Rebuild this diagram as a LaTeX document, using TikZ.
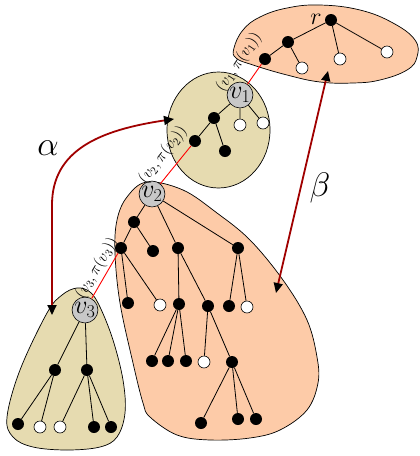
\RequirePackage{fix-cm}
\documentclass[tikz,border=0pt]{standalone}
\usetikzlibrary{arrows.meta}
\definecolor{peach}{RGB}{253,203,168}
\definecolor{blobtan}{RGB}{230,219,176}
\definecolor{nodegray}{RGB}{200,200,200}
\definecolor{arrowred}{RGB}{160,0,0}
\begin{document}
\begin{tikzpicture}[x=1pt,y=-1pt,
 bn/.style={circle,fill=black,inner sep=0pt,minimum size=12pt},
 wn/.style={circle,draw=black,fill=white,inner sep=0pt,minimum size=12pt,line width=0.6pt},
 gn/.style={circle,draw=black,fill=nodegray,inner sep=0pt,minimum size=23pt,line width=0.6pt,font=\fontsize{26}{26}\selectfont},
 tedge/.style={line width=0.8pt},
 redge/.style={red,line width=0.9pt},
 elabel/.style={text=black,font=\fontsize{16}{16}\selectfont, inner sep=0pt},
 blob/.style={draw=black,line width=0.7pt},
 bigarrow/.style={arrowred,line width=1.8pt,{Triangle[length=10pt,width=9pt,color=black]}-{Triangle[length=10pt,width=9pt,color=black]}},
 greek/.style={font=\fontsize{34}{34}\selectfont}
]
\useasboundingbox (0,0) rectangle (420,456);

% blobs
\draw[blob,fill=peach] plot[smooth cycle,tension=0.7] coordinates {(234,48) (243,30) (260,17) (287,8) (320,5) (360,10) (393,23) (415,40) (417,57) (407,70) (380,80) (353,83) (320,82) (287,75) (253,65) (236,58)};
\draw[blob,fill=blobtan] (218.5,130) ellipse [x radius=51.5, y radius=58];
\draw[blob,fill=peach] plot[smooth cycle,tension=0.6] coordinates {(147,182) (183,190) (217,213) (250,240) (283,280) (307,320) (317,357) (318,383) (307,410) (280,430) (250,438) (210,440) (177,435) (150,417) (143,403) (133,363) (120,303) (115,253) (117,220) (127,197)};
\draw[blob,fill=blobtan] plot[smooth cycle,tension=0.6] coordinates {(77,288) (90,292) (100,307) (113,340) (123,380) (125,413) (117,437) (100,447) (67,450) (33,447) (13,437) (7,417) (20,370) (47,313) (62,295)};

% top tree
\node[bn] (r) at (331,20) {};
\node[font=\fontsize{24}{24}\selectfont] (rl) at (316,19) {$r$};
\node[bn] (t1) at (288,42) {};
\node[wn] (t2) at (340,59) {};
\node[wn] (t3) at (387,52) {};
\node[bn] (t4) at (265,59) {};
\node[wn] (t5) at (302,68) {};
\draw[tedge] (r) -- (t1) (r) -- (t2) (r) -- (t3) (t1) -- (t4) (t1) -- (t5);

% v1 tree
\node[gn] (v1) at (240,95) {$v_1$};
\node[bn] (u1) at (214,118) {};
\node[wn] (u2) at (240,125) {};
\node[wn] (u3) at (263,123) {};
\node[bn] (u4) at (195,141) {};
\node[bn] (u5) at (225,151) {};
\draw[tedge] (v1) -- (u1) (v1) -- (u2) (v1) -- (u3) (u1) -- (u4) (u1) -- (u5);

% v2 tree
\node[gn] (v2) at (152,194) {$v_2$};
\node[bn] (a) at (134,222) {};
\node[bn] (b) at (121,248) {};
\node[bn] (c) at (153,251) {};
\node[bn] (d) at (178,248) {};
\node[bn] (e) at (238,248) {};
\node[bn] (b1) at (128,303) {};
\node[wn] (b2) at (160,305) {};
\node[bn] (d1) at (179,304) {};
\node[bn] (d2) at (208,306) {};
\node[bn] (e1) at (229,306) {};
\node[wn] (e2) at (247,307) {};
\node[bn] (d11) at (152,361) {};
\node[bn] (d12) at (168,361) {};
\node[bn] (d13) at (186,361) {};
\node[wn] (d21) at (204,362) {};
\node[bn] (f) at (232,362) {};
\node[bn] (f1) at (201,423) {};
\node[bn] (f2) at (238,419) {};
\node[bn] (f3) at (256,419) {};
\draw[tedge] (v2) -- (a) (v2) -- (d) (v2) -- (e) (a) -- (b) (a) -- (c)
  (b) -- (b1) (b) -- (b2) (d) -- (d1) (d) -- (d2) (e) -- (e1) (e) -- (e2)
  (d1) -- (d11) (d1) -- (d12) (d1) -- (d13) (d2) -- (d21) (d2) -- (f)
  (f) -- (f1) (f) -- (f2) (f) -- (f3);

% v3 tree
\node[gn] (v3) at (85,310) {$v_3$};
\node[bn] (g) at (55,370) {};
\node[bn] (h) at (87,370) {};
\node[bn] (g1) at (18,424) {};
\node[wn] (g2) at (40,427) {};
\node[wn] (h1) at (60,427) {};
\node[bn] (h2) at (94,427) {};
\node[bn] (h3) at (111,427) {};
\draw[tedge] (v3) -- (g) (v3) -- (h) (g) -- (g1) (g) -- (g2) (h) -- (h1) (h) -- (h2) (h) -- (h3);

% red links
\draw[redge] (v1) -- (t4);
\draw[redge] (v2) -- (u4);
\draw[redge] (v3) -- (b);
\node[elabel,rotate=56] (l1) at (239,62) {$(v_1,\pi(v_1))$};
\node[elabel,rotate=52] (l2) at (163,155) {$(v_2,\pi(v_2))$};
\node[elabel,rotate=59] (l3) at (97,268) {$(v_3,\pi(v_3))$};

% alpha / beta arrows
\coordinate (aS) at (52,315);
\coordinate (aE) at (174,119);
\draw[bigarrow] (aS) -- (52,205) .. controls (52,150) and (100,130) .. (aE);
\node[greek] (alpha) at (48,148) {$\alpha$};
\coordinate (bS) at (328,71);
\coordinate (bE) at (276,293);
\draw[bigarrow] (bS) -- (bE);
\node[greek] (beta) at (320,188) {$\beta$};
\end{tikzpicture}
\end{document}
